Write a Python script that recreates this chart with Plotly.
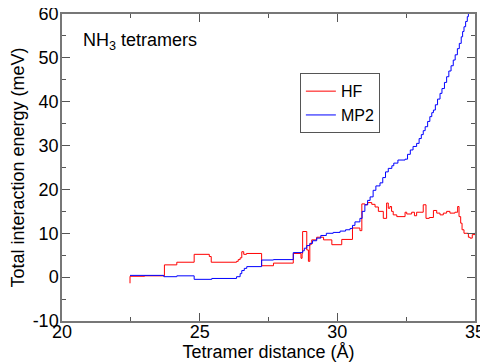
import plotly.graph_objects as go

hf_x = [22.47, 22.47, 23.0, 23.72, 24.17, 24.80, 25.35, 25.42, 26.34, 26.40, 26.47, 26.53, 26.60,
        26.70, 27.25, 27.68, 28.40, 28.68, 28.72, 28.74, 28.89, 28.95, 29.00, 29.07, 29.25, 29.50,
        29.80, 30.16, 30.55, 30.82, 30.89, 31.0, 31.10, 31.25, 31.37, 31.49, 31.67, 31.79, 31.85,
        31.91, 31.97, 32.03, 32.16, 32.46, 32.52, 32.70, 32.80, 32.88, 33.00, 33.12, 33.22, 33.34,
        33.49, 33.61, 33.73, 33.85, 33.97, 34.09, 34.27, 34.37, 34.42, 34.48, 34.53, 34.60, 34.76,
        34.82, 34.90, 35.0]
hf_y = [-1.4, 0.2, 0.3, 2.8, 3.4, 5.2, 4.7, 3.4, 3.6, 4.0, 4.4, 5.8, 5.2,
        5.4, 2.6, 3.2, 5.4, 4.3, 5.4, 10.4, 6.2, 3.6, 7.5, 8.5, 9.1, 8.5,
        7.4, 8.6, 11.2, 10.6, 16.7, 16.5, 17.0, 16.6, 16.0, 15.0, 13.4, 16.9, 15.7,
        16.1, 15.0, 14.2, 13.8, 14.8, 14.4, 14.8, 14.0, 14.8, 14.8, 16.5, 13.4, 13.6,
        15.2, 14.6, 14.2, 14.6, 15.0, 14.6, 14.8, 16.1, 13.8, 12.3, 10.8, 10.0, 9.1,
        8.9, 9.7, 10.1]

mp2_x = [22.47, 23.70, 24.17, 24.80, 25.44, 26.34, 26.47, 26.53, 26.62, 26.71, 27.25, 27.68,
         28.40, 28.74, 28.80, 28.89, 29.00, 29.10, 29.25, 29.40, 29.60, 29.85, 30.10, 30.30,
         30.46, 30.55, 30.64, 30.82, 30.90, 31.00, 31.10, 31.19, 31.30, 31.40, 31.55, 31.65,
         31.75, 31.85, 31.98, 32.05, 32.20, 32.46, 32.55, 32.65, 32.75, 32.88, 32.97, 33.05,
         33.12, 33.19, 33.28, 33.36, 33.43, 33.49, 33.56, 33.64, 33.73, 33.80, 33.89, 33.97,
         34.05, 34.13, 34.21, 34.28, 34.36, 34.43, 34.50, 34.55, 34.60, 34.66, 34.72, 34.76, 34.80]
mp2_y = [0.4, 0.1, 0.3, -0.5, -0.3, 0.1, 0.8, 1.5, 2.0, 2.4, 3.9, 4.0,
         5.6, 6.0, 6.6, 7.2, 7.7, 8.3, 8.9, 9.5, 10.0, 10.2, 10.5, 10.8,
         11.1, 11.8, 12.6, 13.4, 15.0, 16.5, 17.5, 18.3, 19.8, 20.8, 21.5, 22.7,
         24.0, 24.8, 25.4, 26.0, 26.7, 26.9, 28.0, 29.0, 29.8, 30.5, 31.6, 32.5,
         33.4, 34.3, 35.5, 36.6, 37.5, 38.1, 39.3, 40.6, 41.9, 43.0, 44.4, 45.7,
         47.0, 48.2, 49.5, 50.7, 52.1, 53.3, 54.8, 56.0, 57.1, 58.3, 59.4, 60.2, 61.0]

x_ticks = [20, 25, 30, 35]
x_tick_labels = ["20", "25", "30", "35"]
y_ticks = [-10, 0, 10, 20, 30, 40, 50, 60]
y_tick_labels = ["-10", "0", "10", "20", "30", "40", "50", "60"]

font = dict(family="Liberation Sans, Arial, Helvetica, sans-serif", size=18, color="black")

fig = go.Figure()
fig.add_trace(go.Scatter(x=hf_x, y=hf_y, mode="lines", name="HF",
                         line=dict(color="#ff0000", width=1, shape="hv")))
fig.add_trace(go.Scatter(x=mp2_x, y=mp2_y, mode="lines", name="MP2",
                         line=dict(color="#0000ff", width=1, shape="hv")))

axis_common = dict(showgrid=False, zeroline=False, showline=True, linecolor="#777777",
                   linewidth=1.5, mirror="allticks", ticks="inside", ticklen=8,
                   tickcolor="#555555", tickwidth=1, tickfont=font, automargin=False,
                   tickmode="array", ticklabeloverflow="allow")

fig.update_xaxes(range=[20, 35], tickvals=x_ticks, ticktext=x_tick_labels,
                 ticklabelstandoff=-6,
                 minor=dict(dtick=2.5, tick0=20, ticklen=4, ticks="inside", tickcolor="#555555"),
                 title=dict(text="Tetramer distance (Å)", font=font, standoff=0),
                 **axis_common)
fig.update_yaxes(range=[-10, 60], tickvals=y_ticks, ticktext=y_tick_labels,
                 ticklabelstandoff=-2,
                 minor=dict(dtick=5, tick0=0, ticklen=4, ticks="inside", tickcolor="#555555"),
                 title=dict(text="Total interaction energy (meV)", font=font, standoff=4),
                 **axis_common)

fig.add_annotation(x=0.045, y=0.909, xref="paper", yref="paper", xanchor="left", yanchor="middle",
                   text="NH<sub>3</sub> tetramers", showarrow=False, font=font)

fig.update_layout(
    width=480, height=356, autosize=False,
    margin=dict(l=54, r=13, t=6, b=43, autoexpand=False),
    plot_bgcolor="white", paper_bgcolor="white",
    font=font,
    legend=dict(x=0.576, y=0.807, xanchor="left", yanchor="top",
                bordercolor="#555555", borderwidth=1, bgcolor="white",
                font=dict(family=font["family"], size=16, color="black"),
                itemwidth=30, tracegroupgap=0),
)

fig.write_html("out.html")
